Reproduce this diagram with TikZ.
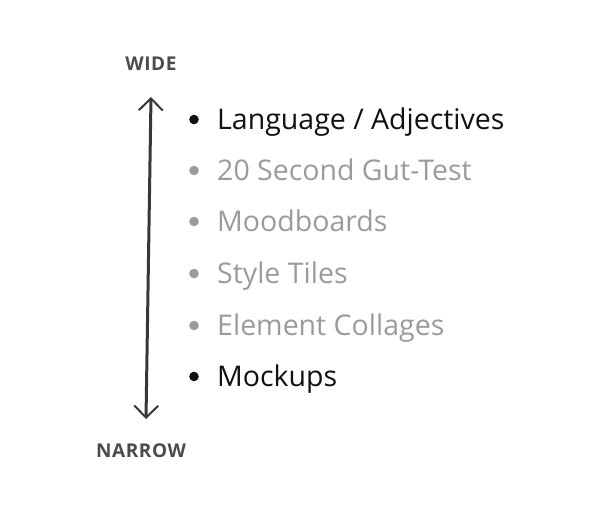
\documentclass[tikz,border=0pt]{standalone}
\usepackage{fontspec}
\setmainfont{Open Sans}
\usetikzlibrary{arrows.meta}

\begin{document}
\begin{tikzpicture}[x=1pt,y=-1pt]
    % palette
    \definecolor{inkDark}{RGB}{17,17,17}
    \definecolor{inkGrey}{RGB}{155,155,155}
    \definecolor{pencil}{RGB}{55,55,55}
    \definecolor{lettering}{RGB}{75,75,75}
    \tikzset{
      step item/.style={anchor=base west, font=\fontsize{28.5}{28.5}\selectfont, inner sep=0pt},
      end label/.style={font=\fontsize{19}{19}\selectfont\bfseries\addfontfeatures{LetterSpace=3}, text=lettering, inner sep=0pt},
      pencil tip/.tip={Straight Barb[length=12pt,width=24pt,line width=2pt]}
    }
    \useasboundingbox (0,0) rectangle (616,519);

    % wide to narrow axis
    \node[end label] (wide) at (151,64) {WIDE};
    \node[end label] (narrow) at (141,451) {NARROW};
    \coordinate (top) at (151,97);
    \coordinate (bottom) at (146,419);
    \draw[pencil, line width=3pt, line cap=round, {pencil tip}-{pencil tip}]
      (top) -- (bottom);

    % list of steps
    \foreach \y/\txt/\col [count=\i] in {129/{Language / Adjectives}/inkDark,
                                 180/20 Second Gut-Test/inkGrey,
                                 231/Moodboards/inkGrey,
                                 283/Style Tiles/inkGrey,
                                 335/Element Collages/inkGrey,
                                 386/Mockups/inkDark}{
      \fill[\col] (194,\y-9.5) circle (4.8pt);
      \node[step item, text=\col] (item\i) at (217,\y) {\txt};
    }
\end{tikzpicture}
\end{document}
